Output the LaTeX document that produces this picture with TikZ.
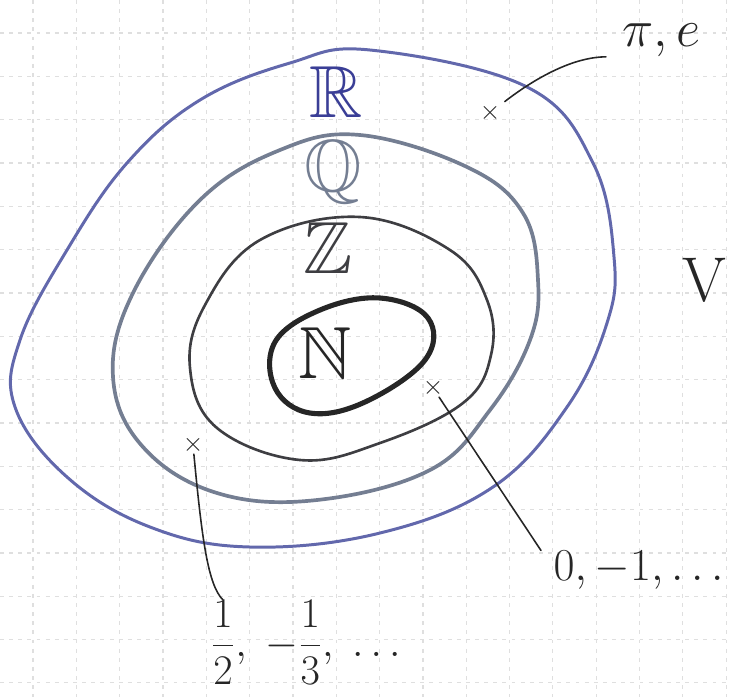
\documentclass[tikz,border=0pt]{standalone}
\usepackage{fix-cm}
\usepackage{amsmath}
\usepackage{amssymb}
\usepackage{tikz}

\definecolor{realblue}{RGB}{98,104,172}
\definecolor{realink}{RGB}{58,62,150}
\definecolor{ratgray}{RGB}{116,126,146}
\definecolor{intgray}{RGB}{62,62,66}
\definecolor{natblack}{RGB}{38,38,38}

\begin{document}
\begin{tikzpicture}[
	x=0.02cm, y=-0.02cm,
	setline/.style={line join=round, line cap=round},
	setname/.style={inner sep=0pt, font=\fontsize{42}{46}\selectfont},
	cross/.style={inner sep=0pt, natblack, font=\fontsize{15}{15}\selectfont},
	leader/.style={natblack, line width=0.9pt, line cap=round},
	answer/.style={inner sep=0pt, natblack}
	]
	\useasboundingbox (0,0) rectangle (729,697);
	\clip (0,0) rectangle (729,697);

	% Grid
	\foreach \k in {0,1,...,16} {
		\draw[gray!25, line width=0.6pt, dash pattern=on 2.2pt off 3pt] ({33+43.33*\k},0) -- ({33+43.33*\k},697);
		\draw[gray!25, line width=0.6pt, dash pattern=on 2.2pt off 3pt] (0,{33+43.33*\k}) -- (729,{33+43.33*\k});
	}

	% Sets
	\draw[setline, realblue, line width=1.7pt] plot[smooth cycle, tension=0.65] coordinates {
		(370,50) (527,87) (593,163) (614,257) (607,323) (567,407) (493,487) (380,533)
		(250,547) (150,527) (67,477) (15,407) (20,340) (67,250) (127,163) (200,100) (290,63)};
	\draw[setline, ratgray, line width=2.1pt] plot[smooth cycle, tension=0.65] coordinates {
		(360,135) (467,167) (523,213) (538,280) (530,340) (490,410) (430,470) (317,500)
		(217,493) (143,447) (113,377) (133,293) (200,200) (280,150)};
	\draw[setline, intgray, line width=1.5pt] plot[smooth cycle, tension=0.65] coordinates {
		(360,217) (450,250) (487,300) (491,355) (463,403) (380,443) (300,460) (217,428)
		(190,368) (205,305) (260,240)};
	\draw[setline, natblack, line width=2.9pt] plot[smooth cycle, tension=0.65] coordinates {
		(380,298) (428,318) (425,360) (365,402) (310,413) (275,388) (275,342) (320,310)};

	% Set names
	\node[setname, text=realink] (reals) at (336,92) {$\mathbb{R}$};
	\node[setname, text=ratgray] (rats) at (333,172) {$\mathbb{Q}$};
	\node[setname, text=intgray] (ints) at (328,248) {$\mathbb{Z}$};
	\node[setname, text=natblack] (nats) at (325,353) {$\mathbb{N}$};

	% Examples
	\node[cross] (irr) at (490,113) {$\times$};
	\node[answer, inner xsep=9pt, anchor=west, font=\fontsize{30}{32}\selectfont] (irrlab) at (606,40) {$\pi, e$};
	\draw[leader, shorten <=3pt] (irr) .. controls (530,82) and (570,57) .. (irrlab.south west);

	\node[cross] (nat) at (433,388) {$\times$};
	\node[answer, inner xsep=7pt, anchor=west, font=\fontsize{26}{28}\selectfont] (natlab) at (541,570) {$0, -1, \dots$};
	\draw[leader] (nat) -- (natlab.north west);

	\node[cross] (rat) at (193,445) {$\times$};
	\node[answer, anchor=base, font=\fontsize{24}{26}\selectfont] (half) at (223,656) {$\dfrac{1}{2}$};
	\node[answer, anchor=base west, font=\fontsize{24}{26}\selectfont] (ratlab) at (half.base east) {$,\; -\dfrac{1}{3},\; \dots$};
	\draw[leader] (rat) .. controls (202,540) and (208,585) .. (half.north);

	\node[inner sep=0pt, anchor=east, natblack, font=\fontsize{36}{40}\selectfont] (vnote) at (727,280) {V};
\end{tikzpicture}
\end{document}
